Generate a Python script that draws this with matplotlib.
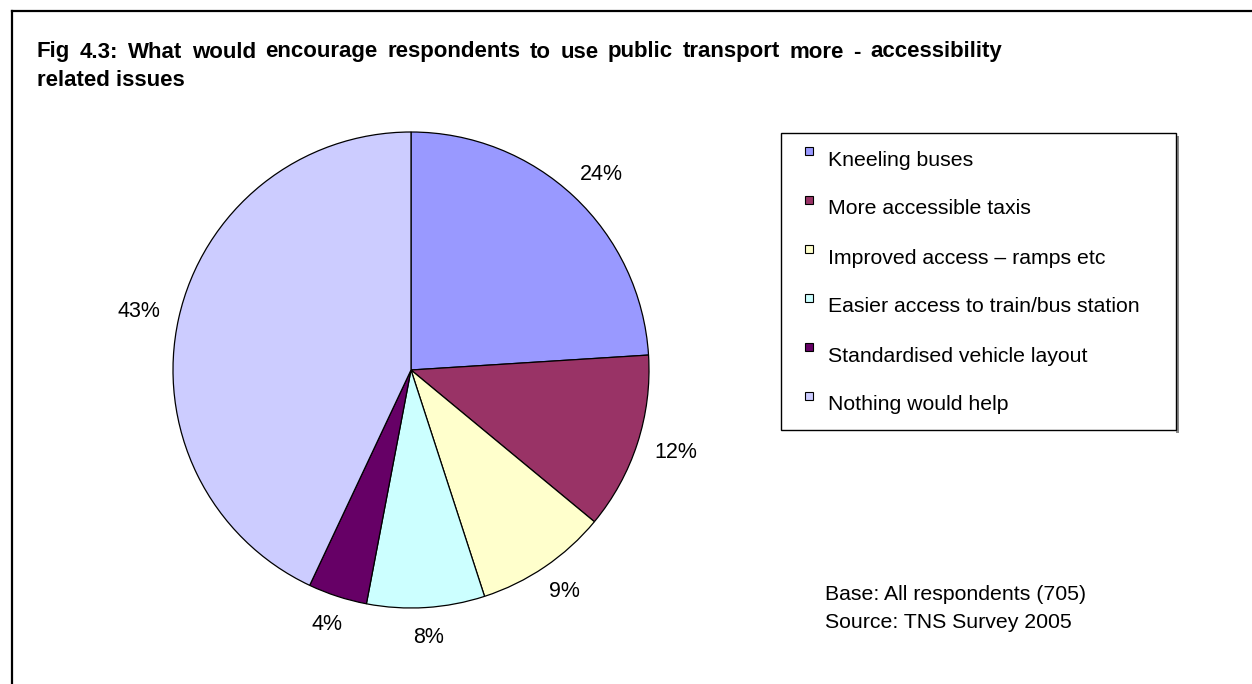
import numpy as np
import matplotlib.pyplot as plt
from matplotlib.patches import Rectangle
from matplotlib.lines import Line2D

plt.rcParams['font.family'] = ['Liberation Sans', 'DejaVu Sans']

# --- Data ---
categories = [
    "Kneeling buses",
    "More accessible taxis",
    "Improved access \u2013 ramps etc",
    "Easier access to train/bus station",
    "Standardised vehicle layout",
    "Nothing would help",
]
shares = [24, 12, 9, 8, 4, 43]
colors = ["#9999FF", "#993366", "#FFFFCC", "#CCFFFF", "#660066", "#CCCCFF"]

title_line1 = "Fig 4.3: What would encourage respondents to use public transport more - accessibility"
title_line2 = "related issues"
notes = ["Base: All respondents (705)", "Source: TNS Survey 2005"]

W, H = 1252, 684
FS = 15.3
fig = plt.figure(figsize=(W / 100, H / 100), dpi=100)
renderer = fig.canvas.get_renderer()


def fx(px):
    return px / W


def fy(py):
    return 1 - py / H


# outer frame (top and left only)
fig.add_artist(Line2D([fx(12), 1], [fy(11), fy(11)], color="black", lw=1.6))
fig.add_artist(Line2D([fx(12), fx(12)], [fy(11), 0], color="black", lw=1.6))

# justified first title line: spread the words between the margins
words = title_line1.split()
word_texts = [fig.text(0, fy(52), w, fontsize=16, fontweight="bold", va="center", ha="left")
              for w in words]
widths = [t.get_window_extent(renderer).width for t in word_texts]
left, right = 37, 1002
gap = (right - left - sum(widths)) / (len(words) - 1)
x = left
for t, w in zip(word_texts, widths):
    t.set_x(fx(x))
    x += w + gap
fig.text(fx(left), fy(81), title_line2, fontsize=16, fontweight="bold", va="center", ha="left")

# --- Pie ---
cx, cy, r = 411, 370, 238
ax = fig.add_axes([fx(cx - r), fy(cy + r), 2 * r / W, 2 * r / H])
wedges, texts = ax.pie(shares, colors=colors, startangle=90, counterclock=False,
                       labels=[f"{v}%" for v in shares], labeldistance=1.08,
                       wedgeprops=dict(edgecolor="black", linewidth=0.9),
                       textprops=dict(fontsize=15.5))
ax.set_xlim(-1, 1)
ax.set_ylim(-1, 1)
ax.set_aspect("equal")
ax.axis("off")

# push each label outward so its box sits just outside the rim
for t, w in zip(texts, wedges):
    ang = np.deg2rad((w.theta1 + w.theta2) / 2)
    ux, uy = np.cos(ang), np.sin(ang)
    t.set_ha("center")
    t.set_va("center")
    bb = t.get_window_extent(renderer)
    bw, bh = bb.width / r, bb.height / r
    t.set_position((1.08 * ux + bw / 2 * ux, 1.08 * uy + bh / 2 * uy))

# --- Legend box ---
lx0, ly0, lx1, ly1 = 781, 133, 1176, 430
fig.add_artist(Rectangle((fx(lx1), fy(ly1 + 3)), 3 / W, (ly1 - ly0) / H,
                         transform=fig.transFigure, facecolor="#888888", edgecolor="none"))
fig.add_artist(Rectangle((fx(lx0), fy(ly1)), (lx1 - lx0) / W, (ly1 - ly0) / H,
                         transform=fig.transFigure, facecolor="white",
                         edgecolor="black", lw=1.0))
for i, (lab, col) in enumerate(zip(categories, colors)):
    yc = 160 + i * 49
    fig.add_artist(Rectangle((fx(805), fy(yc - 5)), 8 / W, 8 / H,
                             transform=fig.transFigure, facecolor=col,
                             edgecolor="black", lw=0.8))
    fig.text(fx(828), fy(yc), lab, fontsize=FS, va="center", ha="left")

for i, n in enumerate(notes):
    fig.text(fx(825), fy(594 + i * 29), n, fontsize=FS, va="center", ha="left")

fig.savefig("out.png", dpi=100, facecolor="white")
